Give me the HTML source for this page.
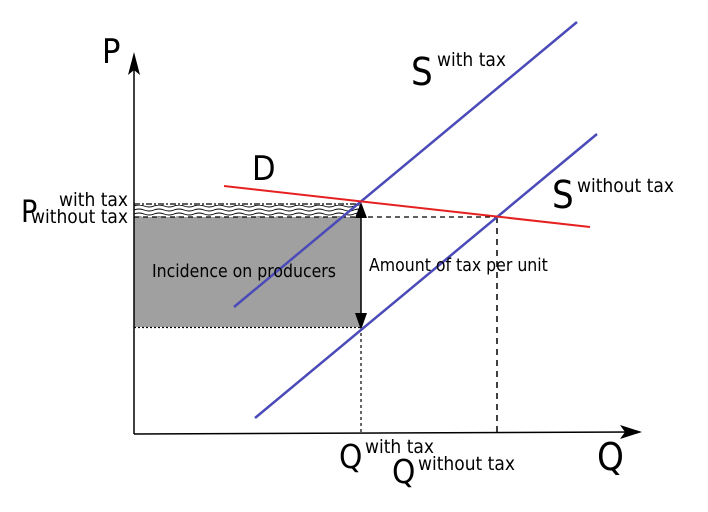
<!DOCTYPE html>
<html><head><meta charset="utf-8"><style>
html,body{margin:0;padding:0;background:#fff;}
svg{display:block;}
text{font-family:"DejaVu Sans Condensed","DejaVu Sans","Liberation Sans",sans-serif;fill:#000;}
</style></head><body>
<svg width="708" height="512" viewBox="0 0 708 512" xmlns="http://www.w3.org/2000/svg">
<defs>
<pattern id="wv" x="134" y="0" width="20" height="4" patternUnits="userSpaceOnUse">
<path d="M0 2 Q5 0 10 2 T20 2" fill="none" stroke="#000" stroke-width="0.9"/>
</pattern>
</defs>
<rect x="134" y="217" width="227" height="110" fill="#a0a0a0"/>
<rect x="134" y="205" width="227" height="12" fill="url(#wv)"/>
<line x1="134" y1="204" x2="361" y2="204" stroke="#000" stroke-width="1.2" stroke-dasharray="6,2,2,2"/>
<line x1="134" y1="217" x2="497" y2="217" stroke="#000" stroke-width="1.2" stroke-dasharray="5,4"/>
<line x1="134" y1="327.5" x2="361" y2="327.5" stroke="#000" stroke-width="1.2" stroke-dasharray="2,2"/>
<line x1="361" y1="327" x2="361" y2="433" stroke="#000" stroke-width="1.2" stroke-dasharray="3,3"/>
<line x1="497" y1="217" x2="497" y2="433" stroke="#000" stroke-width="1.5" stroke-dasharray="6,5"/>
<!-- axes -->
<line x1="134" y1="434" x2="134" y2="62" stroke="#000" stroke-width="1.5"/>
<polygon points="134,52 128,75 134,70 140,75" fill="#000"/>
<line x1="134" y1="434" x2="632" y2="432" stroke="#000" stroke-width="1.5"/>
<polygon points="642,432 620,425 625,432 620,439" fill="#000"/>
<!-- tax arrow -->
<line x1="361" y1="212" x2="361" y2="318" stroke="#000" stroke-width="1.5"/>
<polygon points="361,202 355,218 367,218" fill="#000"/>
<polygon points="361,330 355,313 367,313" fill="#000"/>
<!-- curves -->
<line x1="234" y1="307" x2="577" y2="22" stroke="#4a4ab8" stroke-width="2.5"/>
<line x1="255" y1="418" x2="597" y2="134" stroke="#4a4ab8" stroke-width="2.5"/>
<line x1="224" y1="186" x2="590" y2="227" stroke="#e62020" stroke-width="2"/>
<!-- labels -->
<text x="102" y="63" font-size="34">P</text>
<text x="411" y="85" font-size="38">S</text>
<text x="437" y="66" font-size="19">with tax</text>
<text x="252" y="180" font-size="34">D</text>
<text x="552" y="208" font-size="38">S</text>
<text x="577" y="192" font-size="19">without tax</text>
<text x="21" y="222" font-size="30">P</text>
<text x="128" y="206" font-size="19" text-anchor="end">with tax</text>
<text x="128" y="223" font-size="19" text-anchor="end">without tax</text>
<text x="152" y="277" font-size="17.5">Incidence on producers</text>
<text x="369" y="271" font-size="17.5">Amount of tax per unit</text>
<text x="339" y="468" font-size="33">Q</text>
<text x="365" y="453" font-size="19">with tax</text>
<text x="392" y="483" font-size="33">Q</text>
<text x="418" y="470" font-size="19">without tax</text>
<text x="597" y="470" font-size="38">Q</text>
</svg>
</body></html>
